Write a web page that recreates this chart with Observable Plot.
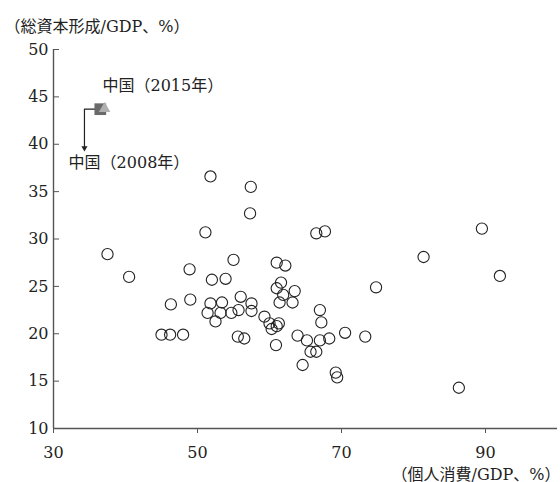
<!DOCTYPE html>
<html>
<head>
<meta charset="utf-8">
<script src="https://cdn.jsdelivr.net/npm/d3@7"></script>
<script src="https://cdn.jsdelivr.net/npm/@observablehq/plot@0.6"></script>
<style>
  body { margin: 0; background: #fff; }
</style>
</head>
<body>
<div id="chart"></div>
<script>
// Personal consumption / GDP (%) and gross capital formation / GDP (%)
const consumption = [37.5, 40.5, 45.0, 46.2, 46.3, 48.0, 48.9, 49.0, 51.1, 51.4,
  51.8, 51.8, 52.0, 52.5, 53.2, 53.4, 53.9, 54.7, 55.0, 55.6,
  55.7, 56.0, 56.5, 57.3, 57.4, 57.5, 57.5, 59.3, 60.0, 60.3,
  61.0, 61.3, 60.9, 61.0, 62.2, 61.6, 61.0, 61.9, 63.5, 61.4,
  63.2, 63.9, 65.2, 67.0, 68.3, 65.7, 66.5, 64.6, 69.2, 69.4,
  67.0, 67.2, 70.5, 73.3, 74.8, 66.5, 67.7, 81.4, 89.5, 92.0, 86.3];
const investment = [28.4, 26.0, 19.9, 19.9, 23.1, 19.9, 26.8, 23.6, 30.7, 22.2,
  23.2, 36.6, 25.7, 21.3, 22.2, 23.3, 25.8, 22.2, 27.8, 19.7,
  22.5, 23.9, 19.5, 32.7, 35.5, 23.2, 22.4, 21.8, 21.1, 20.5,
  20.8, 21.1, 18.8, 27.5, 27.2, 25.4, 24.8, 24.1, 24.5, 23.3,
  23.3, 19.8, 19.3, 19.3, 19.5, 18.1, 18.1, 16.7, 15.9, 15.4,
  22.5, 21.2, 20.1, 19.7, 24.9, 30.6, 30.8, 28.1, 31.1, 26.1, 14.3];

// China markers
const china2008 = {x: 36.5, y: 43.7};
const china2015 = {x: 37.1, y: 43.75};
const arrowX = [36.5, 34.3, 34.3];
const arrowY = [43.7, 43.7, 39.6];
const labelsX = [36.8, 32.1];
const labelsY = [46.2, 38.0];
const labelsText = ["中国（2015年）", "中国（2008年）"];

const xTicks = [30, 50, 70, 90];
const yTicks = [10, 15, 20, 25, 30, 35, 40, 45, 50];
const yTitle = "（総資本形成/GDP、%）";
const xTitle = "（個人消費/GDP、%）";

const FONT = "'DejaVu Serif', 'Noto Sans CJK JP', serif";
const points = consumption.map((c, i) => ({c, v: investment[i]}));
const arrowPts = arrowX.map((x, i) => ({x, y: arrowY[i]}));
const labels = labelsText.map((t, i) => ({t, x: labelsX[i], y: labelsY[i]}));

const chart = Plot.plot({
  width: 560,
  height: 482,
  marginLeft: 53,
  marginRight: 3,
  marginTop: 49,
  marginBottom: 54,
  x: {domain: [30, 100]},
  y: {domain: [10, 50]},
  style: {fontFamily: FONT, fontSize: "16px", color: "#222", background: "#fff"},
  marks: [
    Plot.axisX({ticks: xTicks, tickSize: 5, tickPadding: 13, label: null, fontSize: 16, stroke: "#555"}),
    Plot.axisY({ticks: yTicks, tickSize: 0, tickPadding: 5, label: null, fontSize: 16}),
    Plot.axisY({ticks: yTicks, tickSize: -6, text: null, label: null, stroke: "#555"}),
    Plot.ruleX([30], {stroke: "#555", strokeWidth: 1.4}),
    Plot.ruleY([10], {stroke: "#555", strokeWidth: 1.4}),
    Plot.dot(points, {x: "c", y: "v", r: 5.6, stroke: "#222", strokeWidth: 1.1, fill: "none"}),
    Plot.line(arrowPts, {x: "x", y: "y", stroke: "#222", strokeWidth: 1.2}),
    Plot.dot([arrowPts[2]], {x: "x", y: "y", symbol: "triangle", rotate: 180, r: 2.3, fill: "#222", stroke: "none"}),
    Plot.dot([china2008], {x: "x", y: "y", symbol: "square", r: 6.6, fill: "#6a6a6a", stroke: "none"}),
    Plot.dot([china2015], {x: "x", y: "y", symbol: "triangle", r: 4.3, fill: "#b0b0b0", stroke: "none"}),
    Plot.text(labels, {x: "x", y: "y", text: "t", textAnchor: "start", lineAnchor: "middle", fontSize: 16, fill: "#222"}),
    Plot.text([yTitle], {frameAnchor: "top-left", textAnchor: "start", lineAnchor: "bottom", dx: -49, dy: -18, fontSize: 16, fill: "#222"}),
    Plot.text([xTitle], {frameAnchor: "bottom-right", textAnchor: "end", lineAnchor: "bottom", dx: 3, dy: 51, fontSize: 16, fill: "#222"})
  ]
});
document.getElementById("chart").append(chart);
</script>
</body>
</html>
